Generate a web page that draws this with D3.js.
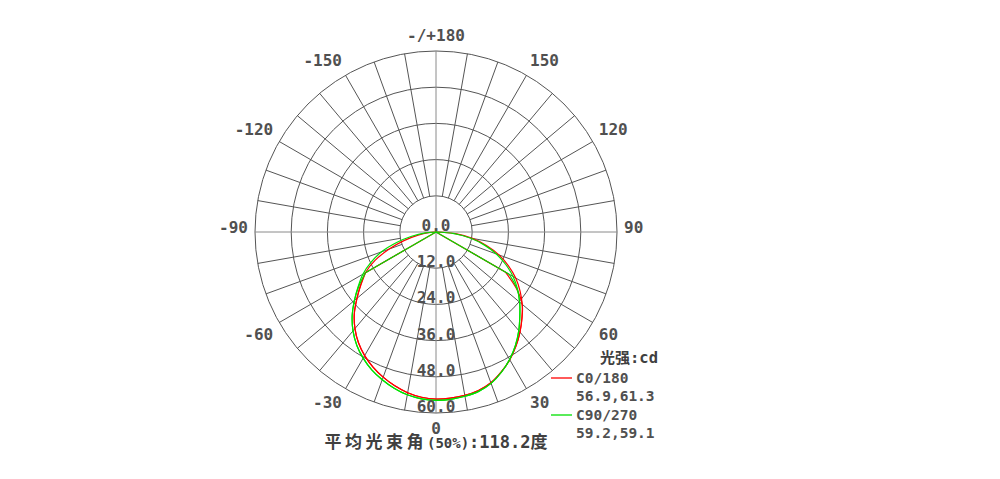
<!DOCTYPE html>
<html><head><meta charset="utf-8">
<script src="https://cdn.jsdelivr.net/npm/d3@7"></script>
<style>
html,body{margin:0;padding:0;background:#fff;}
svg{display:block;}
</style></head>
<body>
<svg id="chart" width="1000" height="479"></svg>
<script>
// ---- data ----
const ringValues = [0, 12, 24, 36, 48, 60];
const ringLabels = ["0.0", "12.0", "24.0", "36.0", "48.0", "60.0"];
const angleTicks = [0, 30, 60, 90, 120, 150, 180, -150, -120, -90, -60, -30];
const angleLabels = ["0", "30", "60", "90", "120", "150", "-/+180", "-150", "-120", "-90", "-60", "-30"];

// outer curves, 5 degree steps, angle in degrees (0 = down, + = right)
const outerAngles = [-90,-85,-80,-75,-70,-65,-60,-55,-50,-45,-40,-35,-30,-25,-20,-15,-10,-5,0,5,10,15,20,25,30,35,40,45,50,55,60,65,70,75,80,85,90];
const c0Outer  = [0,2.5,6,11,16.5,22.3,27,30.5,34.2,38.3,41.8,44.8,47.3,49.4,51.2,52.8,54.1,55.0,55.4,55.3,55.0,54.4,53.2,51.2,48.9,46.2,43.3,40.3,37.3,34,30.5,26.5,22.2,17.3,12.2,6.5,0];
const c90Outer = [0,3.5,8.2,13.5,19.2,23.8,28,31.5,35.3,39.3,42.8,45.8,48.3,50.4,52.1,53.6,54.8,55.5,55.8,55.7,55.3,54.7,53.4,51.3,48.8,45.9,42.7,39.3,36.2,33.0,29.5,25.5,21.3,16.5,11.5,6,0];
// inner curves, 5 degree steps, dropping to zero after +-60
const innerAngles = [-65,-60,-55,-50,-45,-40,-35,-30,-25,-20,-15,-10,-5,0,5,10,15,20,25,30,35,40,45,50,55,60,65];
const c0Inner  = [0,27,30.3,34.2,38.3,41.8,44.8,47.3,49.4,51.2,52.8,54.1,55.0,55.4,55.3,55.0,54.4,53.2,51.2,48.9,46.2,43.3,40.3,37.3,32.5,26.5,0];
const c90Inner = [0,27,31.2,35.3,39.3,42.8,45.8,48.3,50.4,52.1,53.6,54.8,55.5,55.8,55.7,55.3,54.7,53.4,51.3,48.8,45.9,42.7,39.3,36.2,32.8,28,0];

const seriesNames = ["C0/180", "C90/270"];
const seriesValues = ["56.9,61.3", "59.2,59.1"];
const seriesColors = ["#ff0000", "#00e000"];
const unitLabel = ["光强", ":cd"];
const titleParts = ["平均光束角", "(50%)", ":118.2", "度"];

// ---- layout ----
const cx = 436, cy = 232, R = 181;
const svg = d3.select("#chart");
const r = d3.scaleLinear().domain([0, 60]).range([0, R]);
const toRad = d => d * Math.PI / 180;
const px = (deg, v) => cx + r(v) * Math.sin(toRad(deg));
const py = (deg, v) => cy + r(v) * Math.cos(toRad(deg));

const g = svg.append("g");
const gridColor = "#555";

// circles
g.selectAll("circle.ring").data(ringValues.filter(d => d > 0)).enter()
  .append("circle").attr("cx", cx).attr("cy", cy).attr("r", d => r(d))
  .attr("fill", "none").attr("stroke", gridColor).attr("stroke-width", 1);

// radial lines
const spokes = d3.range(-170, 190, 10);
g.selectAll("line.spoke").data(spokes).enter().append("line")
  .attr("x1", d => px(d, (d % 90 === 0) ? 0 : 12))
  .attr("y1", d => py(d, (d % 90 === 0) ? 0 : 12))
  .attr("x2", d => px(d, 60)).attr("y2", d => py(d, 60))
  .attr("stroke", d => (d % 90 === 0) ? "#8a8a8a" : gridColor)
  .attr("stroke-width", 1);

// curves
const radialSmooth = d3.lineRadial()
  .angle(d => Math.PI - toRad(d[0]))
  .radius(d => r(d[1]))
  .curve(d3.curveCatmullRom.alpha(0.5));
const radialLinear = d3.lineRadial()
  .angle(d => Math.PI - toRad(d[0]))
  .radius(d => r(d[1]));

function drawSeries(angles, outer, inAngles, inner, color) {
  const pathAttrs = sel => sel.attr("transform", `translate(${cx},${cy})`)
    .attr("fill", "none").attr("stroke", color).attr("stroke-width", 1.2);
  svg.append("path").call(pathAttrs)
    .attr("d", radialSmooth(angles.map((a, i) => [a, outer[i]])));
  const pts = inAngles.map((a, i) => [a, inner[i]]);
  const n = pts.length;
  svg.append("path").call(pathAttrs).attr("d", radialSmooth(pts.slice(1, n - 1)));
  svg.append("path").call(pathAttrs).attr("d", radialLinear(pts.slice(0, 2)));
  svg.append("path").call(pathAttrs).attr("d", radialLinear(pts.slice(n - 2)));
}
drawSeries(outerAngles, c0Outer, innerAngles, c0Inner, seriesColors[0]);
drawSeries(outerAngles, c90Outer, innerAngles, c90Inner, seriesColors[1]);

const mono = "'DejaVu Sans Mono', 'Liberation Mono', monospace";
const textColor = "#505050";

// ring labels
svg.selectAll("text.ring").data(ringValues).enter().append("text")
  .attr("x", cx).attr("y", d => cy + r(d) - 1)
  .attr("text-anchor", "middle")
  .attr("font-family", mono).attr("font-size", 16).attr("font-weight", "bold")
  .attr("fill", textColor)
  .text((d, i) => ringLabels[i]);

// angle labels: start-anchored on right, end-anchored on left
const LR = 188;
svg.selectAll("text.ang").data(angleTicks).enter().append("text")
  .attr("x", d => cx + LR * Math.sin(toRad(d)))
  .attr("y", d => {
    const c = Math.cos(toRad(d));
    const off = Math.abs(c) < 1e-6 ? -5 : (c > 0 ? 8 : -9);
    return cy + LR * c + off;
  })
  .attr("text-anchor", d => (d === 0 || d === 180) ? "middle" : (d > 0 ? "start" : "end"))
  .attr("dominant-baseline", "central")
  .attr("font-family", mono).attr("font-size", 16).attr("font-weight", "bold")
  .attr("fill", textColor)
  .text((d, i) => angleLabels[i]);

// legend
const lg = svg.append("g");
const ut = lg.append("text").attr("x", 600).attr("y", 363)
  .attr("font-weight", "bold").attr("fill", "#404040");
ut.append("tspan").attr("font-family", "'Noto Sans CJK SC'").attr("font-size", 15).text(unitLabel[0]);
ut.append("tspan").attr("font-family", mono).attr("font-size", 15.5).text(unitLabel[1]);
seriesNames.forEach((name, i) => {
  const y0 = 378 + i * 37;
  lg.append("line").attr("x1", 551).attr("x2", 572).attr("y1", y0).attr("y2", y0)
    .attr("stroke", seriesColors[i]).attr("stroke-width", 1.3);
  lg.append("text").attr("x", 576).attr("y", y0 + 5)
    .attr("font-family", mono).attr("font-size", 14.5).attr("font-weight", "bold")
    .attr("fill", textColor).text(name);
  lg.append("text").attr("x", 576).attr("y", y0 + 23)
    .attr("font-family", mono).attr("font-size", 14.5).attr("font-weight", "bold")
    .attr("fill", textColor).text(seriesValues[i]);
});

// title
const t = svg.append("text").attr("x", cx).attr("y", 448).attr("text-anchor", "middle")
  .attr("fill", "#404040").attr("font-weight", "bold");
t.append("tspan").attr("font-family", "'Noto Sans CJK SC'").attr("font-size", 17)
  .attr("letter-spacing", 3.5).text(titleParts[0]);
t.append("tspan").attr("font-family", mono).attr("font-size", 14).text(titleParts[1]);
t.append("tspan").attr("font-family", mono).attr("font-size", 17).text(titleParts[2]);
t.append("tspan").attr("font-family", "'Noto Sans CJK SC'").attr("font-size", 17).text(titleParts[3]);
</script>
</body></html>
